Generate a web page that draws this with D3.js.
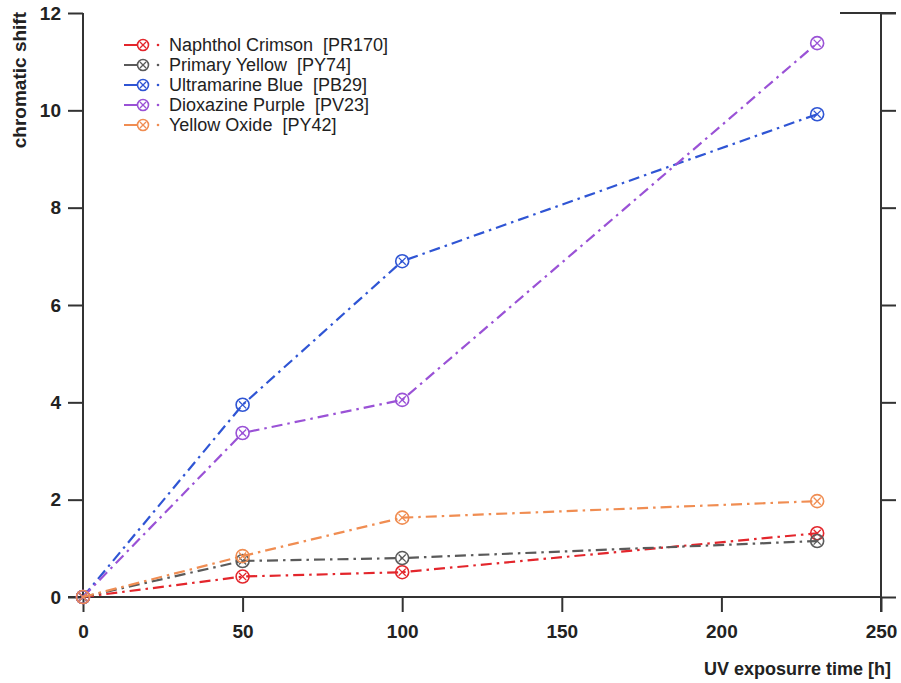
<!DOCTYPE html>
<html>
<head>
<meta charset="utf-8">
<script src="https://cdn.jsdelivr.net/npm/d3@7"></script>
<style>
  body { margin: 0; background: #fff; }
  svg { font-family: "Liberation Sans", Arial, sans-serif; }
  text { white-space: pre; }
</style>
</head>
<body>
<svg id="chart" width="901" height="683"></svg>
<script>
(function() {

    var hours = [0, 50, 100, 230];
    var names = ["Naphthol Crimson  [PR170]", "Primary Yellow  [PY74]", "Ultramarine Blue  [PB29]",
                 "Dioxazine Purple  [PV23]", "Yellow Oxide  [PY42]"];
    var colors = ["#e3262c", "#5a5a5a", "#2f55d4", "#9a52d6", "#f08d52"];
    var crimson = [0, 0.42, 0.51, 1.31];
    var primaryYellow = [0, 0.74, 0.80, 1.15];
    var ultramarine = [0, 3.95, 6.90, 9.92];
    var dioxazine = [0, 3.37, 4.05, 11.38];
    var yellowOxide = [0, 0.84, 1.63, 1.97];
    var xTicks = [0, 50, 100, 150, 200, 250];
    var yTicks = [0, 2, 4, 6, 8, 10, 12];

    var series = [crimson, primaryYellow, ultramarine, dioxazine, yellowOxide].map(function(v, i) {
        return { name: names[i], color: colors[i], values: v.map(function(y, j) { return { x: hours[j], y: y }; }) };
    });

    var svg = d3.select("#chart"),
        left = 83, right = 881, top = 13, bottom = 597;

    var x = d3.scaleLinear().domain([0, 250]).range([left, right]);
    var y = d3.scaleLinear().domain([0, 12]).range([bottom, top]);

    var xAxis = svg.append("g")
        .attr("transform", "translate(0," + bottom + ")")
        .call(d3.axisBottom(x).tickValues(xTicks).tickSize(15).tickPadding(13));
    var yAxis = svg.append("g")
        .attr("transform", "translate(" + left + ",0)")
        .call(d3.axisLeft(y).tickValues(yTicks).tickSize(15).tickPadding(7));
    var rAxis = svg.append("g")
        .attr("transform", "translate(" + right + ",0)")
        .call(d3.axisRight(y).tickValues(yTicks).tickSize(15).tickFormat(""));

    [xAxis, yAxis, rAxis].forEach(function(a) {
        a.select(".domain").attr("stroke", "#333").attr("stroke-width", 2);
        a.selectAll(".tick line").attr("stroke", "#333").attr("stroke-width", 2);
        a.selectAll(".tick text").attr("fill", "#222").style("font-size", "19px").style("font-weight", "bold");
    });
    xAxis.select(".domain").attr("d", "M" + (left - 15) + ",0H" + right);
    yAxis.select(".domain").attr("d", "M0," + top + "V" + bottom);
    rAxis.select(".domain").attr("d", "M0," + top + "V" + (bottom + 15));

    svg.append("line")
        .attr("x1", 840).attr("x2", right + 15)
        .attr("y1", top).attr("y2", top)
        .attr("stroke", "#333").attr("stroke-width", 2);

    svg.append("text")
        .attr("transform", "translate(26," + (top - 1) + ") rotate(-90)")
        .attr("text-anchor", "end")
        .style("font-size", "19px").style("font-weight", "bold").attr("fill", "#222")
        .text("chromatic shift");

    svg.append("text")
        .attr("x", 891).attr("y", 675)
        .attr("text-anchor", "end")
        .style("font-size", "18px").style("font-weight", "bold").attr("fill", "#222")
        .text("UV exposurre time [h]");

    var line = d3.line()
        .x(function(d) { return x(d.x); })
        .y(function(d) { return y(d.y); });

    function marker(g, r) {
        g.append("circle").attr("r", r).attr("fill", "none").attr("stroke-width", 1.6);
        var k = r * 0.55;
        g.append("path")
            .attr("d", "M" + (-k) + "," + (-k) + "L" + k + "," + k + "M" + (-k) + "," + k + "L" + k + "," + (-k))
            .attr("stroke-width", 1.3);
    }

    var s = svg.selectAll(".series")
        .data(series)
        .enter().append("g")
        .attr("class", "series")
        .attr("stroke", function(d) { return d.color; });

    s.append("path")
        .attr("d", function(d) { return line(d.values); })
        .attr("fill", "none")
        .attr("stroke-width", 2.2)
        .attr("stroke-dasharray", "11,5,2.5,5");

    s.selectAll(".pt")
        .data(function(d) { return d.values; })
        .enter().append("g")
        .attr("class", "pt")
        .attr("transform", function(d) { return "translate(" + x(d.x) + "," + y(d.y) + ")"; })
        .each(function() { marker(d3.select(this), 6.5); });

    var legend = svg.selectAll(".legend")
        .data(series)
        .enter().append("g")
        .attr("class", "legend")
        .attr("transform", function(d, i) { return "translate(124," + (45 + i * 20) + ")"; });

    legend.append("line")
        .attr("x1", 0).attr("x2", 13).attr("y1", 0).attr("y2", 0)
        .attr("stroke", function(d) { return d.color; }).attr("stroke-width", 2);
    legend.append("g")
        .attr("transform", "translate(19,0)")
        .attr("stroke", function(d) { return d.color; })
        .each(function() { marker(d3.select(this), 5.5); });
    legend.append("circle")
        .attr("cx", 34).attr("r", 1.3)
        .attr("fill", function(d) { return d.color; });
    legend.append("text")
        .attr("x", 45).attr("dy", "0.35em")
        .style("font-size", "18px").attr("fill", "#222")
        .text(function(d) { return d.name; });

})();
</script>
</body>
</html>
